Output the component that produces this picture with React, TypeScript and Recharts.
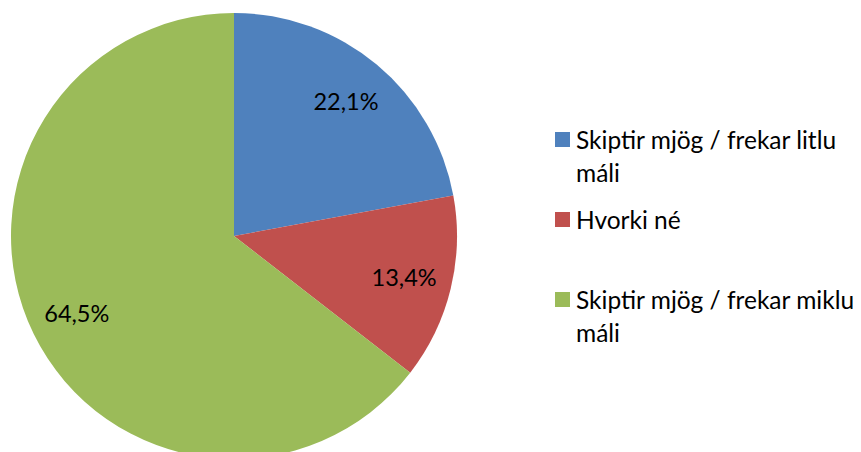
import React from "react";
import { PieChart, Pie, Cell, Legend } from "recharts";

const categories = ["Skiptir mjög / frekar litlu máli", "Hvorki né", "Skiptir mjög / frekar miklu máli"];
const values = [22.1, 13.4, 64.5];
const labels = ["22,1%", "13,4%", "64,5%"];
const colors = ["#4F81BD", "#C0504D", "#9BBB59"];

const data = categories.map((name, i) => ({ name, value: values[i], label: labels[i] }));

const FONT = "Lato, 'Open Sans', sans-serif";
const RAD = Math.PI / 180;

const renderLabel = (props: any) => {
  const { cx, cy, midAngle, outerRadius, index } = props;
  const r = outerRadius * 0.785;
  const x = cx + r * Math.cos(-midAngle * RAD);
  const y = cy + r * Math.sin(-midAngle * RAD);
  return (
    <text x={x} y={y} fill="#000" textAnchor="middle" dominantBaseline="central" fontFamily={FONT} fontSize={23.5}>
      {data[index].label}
    </text>
  );
};

const gaps = [0, 14, 47];

const renderLegend = () => (
  <div style={{ fontFamily: FONT, fontSize: 24.5, color: "#000", lineHeight: "33px" }}>
    {data.map((d, i) => (
      <div key={d.name} style={{ display: "flex", alignItems: "flex-start", marginTop: gaps[i] }}>
        <div style={{ width: 15, height: 15, background: colors[i], marginTop: 9, marginRight: 6, flexShrink: 0 }} />
        <div style={{ width: 285 }}>{d.name}</div>
      </div>
    ))}
  </div>
);

export default function App() {
  return (
    <PieChart width={853} height={444} margin={{ top: 0, right: 0, bottom: 0, left: 0 }}>
      <Pie
        data={data}
        dataKey="value"
        cx={226}
        cy={228}
        outerRadius={223}
        startAngle={90}
        endAngle={-270}
        stroke="none"
        label={renderLabel}
        labelLine={false}
        isAnimationActive={false}
      >
        {data.map((d, i) => (
          <Cell key={d.name} fill={colors[i]} />
        ))}
      </Pie>
      <Legend
        content={renderLegend}
        layout="vertical"
        verticalAlign="top"
        align="right"
        wrapperStyle={{ left: 547, top: 115, width: 306 }}
      />
    </PieChart>
  );
}
